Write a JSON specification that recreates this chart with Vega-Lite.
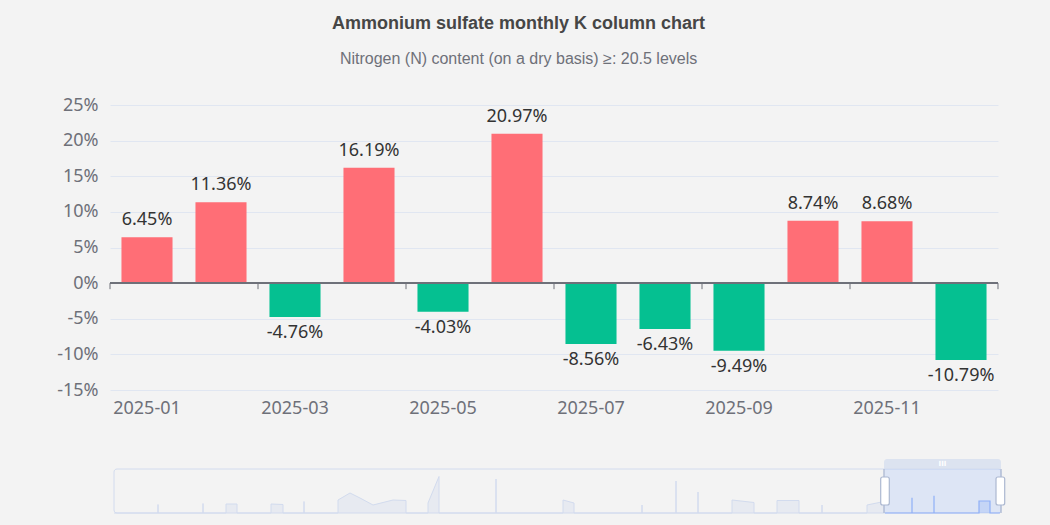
{
  "$schema": "https://vega.github.io/schema/vega-lite/v6.json",
  "background": "#f3f3f3",
  "padding": {"left": 56, "top": 15, "right": 44, "bottom": 10},
  "autosize": {"type": "pad"},
  "config": {
    "view": {"stroke": null},
    "locale": {"number": {"decimal": ".", "thousands": ",", "grouping": [3], "currency": ["$", ""], "minus": "-"}}
  },
  "spacing": 69,
  "bounds": "flush",
  "datasets": {
    "main": [
      {"month": "2025-01", "v": 0.0645},
      {"month": "2025-02", "v": 0.1136},
      {"month": "2025-03", "v": -0.0476},
      {"month": "2025-04", "v": 0.1619},
      {"month": "2025-05", "v": -0.0403},
      {"month": "2025-06", "v": 0.2097},
      {"month": "2025-07", "v": -0.0856},
      {"month": "2025-08", "v": -0.0643},
      {"month": "2025-09", "v": -0.0949},
      {"month": "2025-10", "v": 0.0874},
      {"month": "2025-11", "v": 0.0868},
      {"month": "2025-12", "v": -0.1079}
    ],
    "frame": [{"s": 0, "e": 887, "b": 0, "t": 44}],
    "win": [{"s": 770, "e": 887, "b": 0, "t": 44, "bt": 54}],
    "handles": [{"a": 766.7, "b": 775.3}, {"a": 882, "b": 890.7}],
    "ovgray": [
      {"k": 1, "i": 0, "v": 0},
      {"k": 2, "i": 44, "v": 0}, {"k": 3, "i": 44, "v": 8.5}, {"k": 4, "i": 44, "v": 0},
      {"k": 5, "i": 89, "v": 0}, {"k": 6, "i": 89, "v": 9.5}, {"k": 7, "i": 89, "v": 0},
      {"k": 8, "i": 112, "v": 0}, {"k": 9, "i": 112, "v": 9}, {"k": 10, "i": 123, "v": 9}, {"k": 11, "i": 123, "v": 0},
      {"k": 12, "i": 157, "v": 0}, {"k": 13, "i": 157, "v": 9}, {"k": 14, "i": 169, "v": 8.5}, {"k": 15, "i": 169, "v": 0},
      {"k": 16, "i": 190, "v": 0}, {"k": 17, "i": 190, "v": 11.5}, {"k": 18, "i": 190, "v": 0},
      {"k": 19, "i": 224, "v": 0}, {"k": 20, "i": 224, "v": 13}, {"k": 21, "i": 236, "v": 20}, {"k": 22, "i": 246, "v": 15}, {"k": 23, "i": 259, "v": 8}, {"k": 24, "i": 279, "v": 13}, {"k": 25, "i": 292, "v": 12.5}, {"k": 26, "i": 292, "v": 0},
      {"k": 27, "i": 314, "v": 0}, {"k": 28, "i": 314, "v": 10}, {"k": 29, "i": 325, "v": 36.5}, {"k": 30, "i": 325, "v": 0},
      {"k": 31, "i": 382, "v": 0}, {"k": 32, "i": 382, "v": 34}, {"k": 33, "i": 382, "v": 0},
      {"k": 34, "i": 449, "v": 0}, {"k": 35, "i": 449, "v": 13}, {"k": 36, "i": 460, "v": 10}, {"k": 37, "i": 460, "v": 0},
      {"k": 38, "i": 528, "v": 0}, {"k": 39, "i": 528, "v": 8}, {"k": 40, "i": 528, "v": 0},
      {"k": 41, "i": 562, "v": 0}, {"k": 42, "i": 562, "v": 32}, {"k": 43, "i": 562, "v": 0},
      {"k": 44, "i": 584, "v": 0}, {"k": 45, "i": 584, "v": 21}, {"k": 46, "i": 584, "v": 0},
      {"k": 47, "i": 618, "v": 0}, {"k": 48, "i": 618, "v": 13}, {"k": 49, "i": 640, "v": 10.5}, {"k": 50, "i": 640, "v": 0},
      {"k": 51, "i": 663, "v": 0}, {"k": 52, "i": 663, "v": 12.5}, {"k": 53, "i": 685, "v": 12.5}, {"k": 54, "i": 685, "v": 0},
      {"k": 55, "i": 708, "v": 0}, {"k": 56, "i": 708, "v": 8}, {"k": 57, "i": 708, "v": 0},
      {"k": 58, "i": 753, "v": 0}, {"k": 59, "i": 753, "v": 8}, {"k": 60, "i": 770, "v": 11.5}, {"k": 61, "i": 770, "v": 0}
    ],
    "ovblue": [
      {"k": 1, "i": 771, "v": 0},
      {"k": 2, "i": 798, "v": 0}, {"k": 3, "i": 798, "v": 15.3}, {"k": 4, "i": 798, "v": 0},
      {"k": 5, "i": 820, "v": 0}, {"k": 6, "i": 820, "v": 17.3}, {"k": 7, "i": 820, "v": 0},
      {"k": 8, "i": 865, "v": 0}, {"k": 9, "i": 865, "v": 12}, {"k": 10, "i": 876, "v": 12}, {"k": 11, "i": 876, "v": 0},
      {"k": 12, "i": 886, "v": 0}
    ]
  },
  "vconcat": [
    {
      "width": 888,
      "height": 285,
      "title": {
        "text": "Ammonium sulfate monthly K column chart",
        "subtitle": "Nitrogen (N) content (on a dry basis) ≥: 20.5 levels",
        "anchor": "middle",
        "frame": "bounds",
        "dx": -9,
        "font": "Liberation Sans",
        "fontSize": 18,
        "fontWeight": "bold",
        "color": "#464646",
        "subtitleFont": "Liberation Sans",
        "subtitleFontSize": 16,
        "subtitleColor": "#6e7079",
        "subtitlePadding": 18,
        "offset": 29
      },
      "data": {"name": "main"},
      "layer": [
        {
          "mark": {"type": "bar"},
          "encoding": {
            "x": {
              "field": "month", "type": "nominal", "sort": null,
              "scale": {"paddingInner": 0.31, "paddingOuter": 0.155},
              "axis": {
                "title": null, "labelAngle": 0, "domain": false, "ticks": false, "grid": false,
                "labelExpr": "parseInt(slice(datum.value, 5)) % 2 == 1 ? datum.value : ''",
                "labelFont": "Noto Sans", "labelFontSize": 18, "labelColor": "#6e7079", "labelPadding": 9
              }
            },
            "y": {
              "field": "v", "type": "quantitative",
              "scale": {"domain": [-0.15, 0.25], "nice": false},
              "axis": {
                "title": null, "format": ".0%", "values": [-0.15, -0.1, -0.05, 0, 0.05, 0.1, 0.15, 0.2, 0.25],
                "tickCount": 20,
                "labelOverlap": false,
                "domain": false, "ticks": false, "grid": true, "gridColor": "#e0e6f1", "gridWidth": 1,
                "labelFont": "Noto Sans", "labelFontSize": 18, "labelColor": "#6e7079", "labelPadding": 12
              }
            },
            "color": {
              "condition": {"test": "datum.v >= 0", "value": "#ff6e76"},
              "value": "#05c091"
            }
          }
        },
        {
          "mark": {"type": "rule", "color": "#6e7079", "strokeWidth": 1},
          "encoding": {"y": {"datum": 0}}
        },
        {
          "transform": [{"filter": "parseInt(slice(datum.month, 5)) % 2 == 1"}],
          "mark": {"type": "rule", "color": "#6e7079", "strokeWidth": 1},
          "encoding": {
            "x": {"field": "month", "type": "nominal", "sort": null, "bandPosition": -0.2246},
            "y": {"datum": 0},
            "y2": {"datum": -0.0085}
          }
        },
        {
          "transform": [{"filter": "datum.month == '2025-12'"}],
          "mark": {"type": "rule", "color": "#6e7079", "strokeWidth": 1},
          "encoding": {
            "x": {"field": "month", "type": "nominal", "sort": null, "bandPosition": 1.2246},
            "y": {"datum": 0},
            "y2": {"datum": -0.0085}
          }
        },
        {
          "transform": [{"filter": "datum.v >= 0"}],
          "mark": {"type": "text", "baseline": "alphabetic", "dy": -12, "font": "Noto Sans", "fontSize": 18, "color": "#333333"},
          "encoding": {
            "x": {"field": "month", "type": "nominal", "sort": null},
            "y": {"field": "v", "type": "quantitative"},
            "text": {"field": "v", "type": "quantitative", "format": ".2%"}
          }
        },
        {
          "transform": [{"filter": "datum.v < 0"}],
          "mark": {"type": "text", "baseline": "alphabetic", "dy": 21, "font": "Noto Sans", "fontSize": 18, "color": "#333333"},
          "encoding": {
            "x": {"field": "month", "type": "nominal", "sort": null},
            "y": {"field": "v", "type": "quantitative"},
            "text": {"field": "v", "type": "quantitative", "format": ".2%"}
          }
        }
      ]
    },
    {
      "width": 895,
      "height": 54,
      "layer": [
        {
          "data": {"name": "ovgray"},
          "mark": {"type": "area", "color": "#d2dbee", "opacity": 0.35},
          "encoding": {
            "x": {"field": "i", "type": "quantitative", "scale": {"domain": [-4, 891], "nice": false, "zero": false}, "axis": null},
            "y": {"field": "v", "type": "quantitative", "scale": {"domain": [0, 54], "nice": false}, "axis": null, "stack": null}
          }
        },
        {
          "data": {"name": "ovgray"},
          "mark": {"type": "line", "color": "#d2dbee", "strokeWidth": 1},
          "encoding": {
            "x": {"field": "i", "type": "quantitative", "axis": null},
            "y": {"field": "v", "type": "quantitative", "axis": null},
            "order": {"field": "k"}
          }
        },
        {
          "data": {"name": "frame"},
          "mark": {"type": "rect", "fill": null, "fillOpacity": 0, "stroke": "#d2dbee", "strokeWidth": 1, "cornerRadius": 3},
          "encoding": {
            "x": {"field": "s", "type": "quantitative", "axis": null},
            "x2": {"field": "e"},
            "y": {"field": "b", "type": "quantitative", "axis": null},
            "y2": {"field": "t"}
          }
        },
        {
          "data": {"name": "win"},
          "mark": {"type": "rect", "fill": "#87afff", "fillOpacity": 0.2},
          "encoding": {
            "x": {"field": "s", "type": "quantitative", "axis": null},
            "x2": {"field": "e"},
            "y": {"field": "b", "type": "quantitative", "axis": null},
            "y2": {"field": "t"}
          }
        },
        {
          "data": {"name": "ovblue"},
          "mark": {"type": "area", "color": "#8fb0f7", "opacity": 0.3},
          "encoding": {
            "x": {"field": "i", "type": "quantitative", "axis": null},
            "y": {"field": "v", "type": "quantitative", "axis": null, "stack": null}
          }
        },
        {
          "data": {"name": "ovblue"},
          "mark": {"type": "line", "color": "#8fb0f7", "strokeWidth": 1.2},
          "encoding": {
            "x": {"field": "i", "type": "quantitative", "axis": null},
            "y": {"field": "v", "type": "quantitative", "axis": null},
            "order": {"field": "k"}
          }
        },
        {
          "data": {"name": "win"},
          "mark": {"type": "rect", "fill": "#d2dbee", "fillOpacity": 0.7, "cornerRadiusTopLeft": 3, "cornerRadiusTopRight": 3},
          "encoding": {
            "x": {"field": "s", "type": "quantitative", "axis": null},
            "x2": {"field": "e"},
            "y": {"field": "t", "type": "quantitative", "axis": null},
            "y2": {"field": "bt"}
          }
        },
        {
          "data": {"name": "win"},
          "mark": {"type": "rule", "color": "#b4bfd6", "strokeWidth": 1.5},
          "encoding": {
            "x": {"field": "s", "type": "quantitative", "axis": null},
            "y": {"field": "b", "type": "quantitative", "axis": null},
            "y2": {"field": "t"}
          }
        },
        {
          "data": {"name": "win"},
          "mark": {"type": "rule", "color": "#b4bfd6", "strokeWidth": 1.5},
          "encoding": {
            "x": {"field": "e", "type": "quantitative", "axis": null},
            "y": {"field": "b", "type": "quantitative", "axis": null},
            "y2": {"field": "t"}
          }
        },
        {
          "data": {"name": "win"},
          "mark": {"type": "text", "text": "III", "color": "#ffffff", "fontSize": 7, "fontWeight": "bold", "font": "DejaVu Sans", "baseline": "middle"},
          "encoding": {
            "x": {"datum": 828.5, "type": "quantitative", "axis": null},
            "y": {"datum": 49, "type": "quantitative", "axis": null}
          }
        },
        {
          "data": {"name": "handles"},
          "mark": {"type": "rect", "fill": "#ffffff", "stroke": "#acb8d1", "strokeWidth": 1.2, "cornerRadius": 2},
          "encoding": {
            "x": {"field": "a", "type": "quantitative", "axis": null},
            "x2": {"field": "b"},
            "y": {"datum": 8, "type": "quantitative", "axis": null},
            "y2": {"datum": 36}
          }
        }
      ]
    }
  ]
}
